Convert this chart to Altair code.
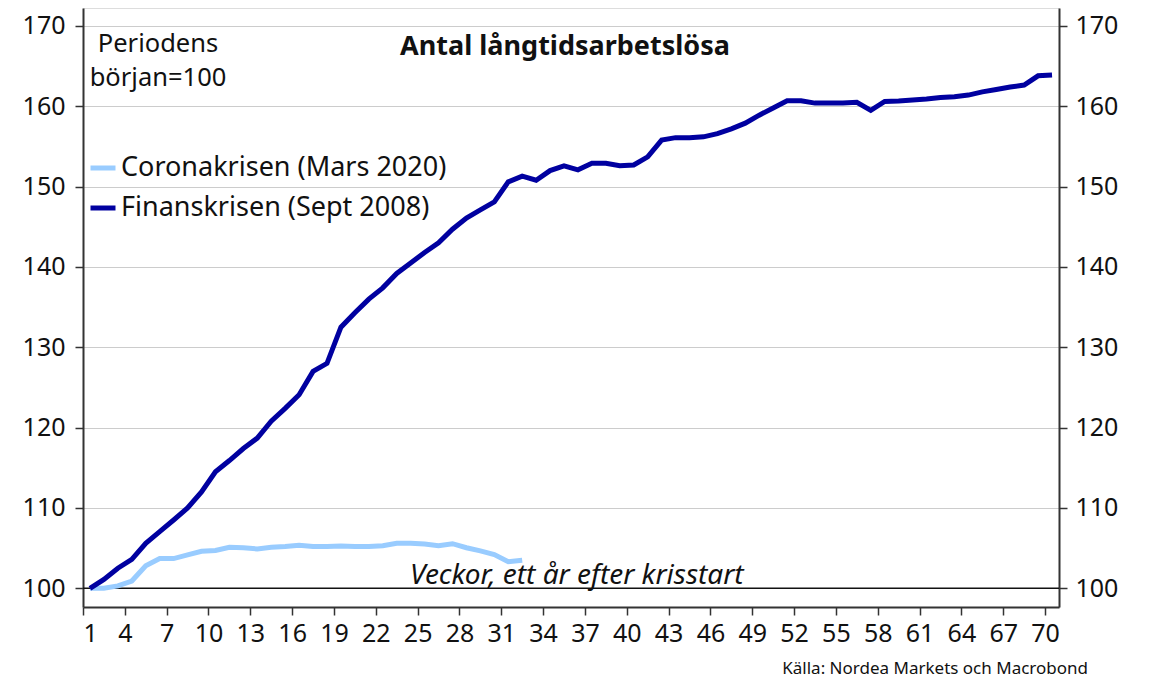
import altair as alt
import pandas as pd

FONT = "Noto Sans"

series_names = ["Coronakrisen (Mars 2020)", "Finanskrisen (Sept 2008)"]
series_colors = ["#99ccff", "#0000a0"]

weeks_corona = list(range(1, 33))
corona = [100.0, 100.0, 100.3, 100.9, 102.8, 103.7, 103.7, 104.15, 104.6, 104.7,
          105.1, 105.05, 104.9, 105.1, 105.2, 105.35, 105.2, 105.2, 105.25, 105.2,
          105.2, 105.3, 105.6, 105.6, 105.5, 105.3, 105.55, 105.05, 104.65, 104.2,
          103.3, 103.5]

weeks_finans = list(range(1, 71))
finans = [100.0, 101.1, 102.5, 103.6, 105.6, 107.05, 108.5, 110.0, 112.0, 114.5,
          115.9, 117.4, 118.7, 120.8, 122.4, 124.1, 127.0, 128.0, 132.5, 134.3,
          136.0, 137.4, 139.2, 140.5, 141.8, 143.0, 144.7, 146.1, 147.1, 148.1,
          150.6, 151.3, 150.8, 152.0, 152.6, 152.1, 152.9, 152.9, 152.6, 152.7,
          153.7, 155.8, 156.1, 156.1, 156.2, 156.6, 157.2, 157.9, 158.9, 159.8,
          160.7, 160.7, 160.4, 160.4, 160.4, 160.5, 159.5, 160.6, 160.65, 160.8,
          160.9, 161.1, 161.2, 161.4, 161.8, 162.1, 162.4, 162.65, 163.8, 163.9]

x_ticks = list(range(1, 71, 3))
y_ticks = [100, 110, 120, 130, 140, 150, 160, 170]

df = pd.concat([
    pd.DataFrame({"vecka": weeks_corona, "index": corona, "serie": series_names[0]}),
    pd.DataFrame({"vecka": weeks_finans, "index": finans, "serie": series_names[1]}),
])

W, H = 976, 599
y_dom = [97.67, 172.24]
x_dom = [1, 71]

x_scale = alt.Scale(domain=x_dom, nice=False, zero=False)
y_scale = alt.Scale(domain=y_dom, nice=False, zero=False)

axis_common = dict(
    labelFont=FONT, labelFontSize=25, labelColor="#111111",
    domainColor="#333333", domainWidth=2, tickColor="#333333", tickWidth=1.5,
    tickSize=8, title=None,
)

lines = alt.Chart(df).transform_calculate(
    xpos="datum.vecka + 0.5"
).mark_line(strokeWidth=5).encode(
    x=alt.X("xpos:Q", scale=x_scale,
            axis=alt.Axis(values=x_ticks, labelPadding=6, grid=False, **axis_common)),
    y=alt.Y("index:Q", scale=y_scale,
            axis=alt.Axis(values=y_ticks, labelPadding=10, grid=True,
                          gridColor="#cccccc", gridWidth=1, **axis_common)),
    color=alt.Color("serie:N",
                    scale=alt.Scale(domain=series_names, range=series_colors),
                    legend=alt.Legend(
                        title=None, orient="none", legendX=5, legendY=145,
                        direction="vertical", symbolType="stroke",
                        symbolSize=625, symbolStrokeWidth=5,
                        labelFont=FONT, labelFontSize=27, labelColor="#111111",
                        labelOffset=3, rowPadding=12, padding=0, labelLimit=0,
                    )),
)

base_rule = alt.Chart(pd.DataFrame({"v": [100]})).mark_rule(
    color="#111111", strokeWidth=1.5
).encode(
    y=alt.Y("v:Q", scale=y_scale, axis=None),
)

right_axis = alt.Chart(pd.DataFrame({"v": y_ticks})).mark_tick(opacity=0).encode(
    y=alt.Y("v:Q", scale=y_scale,
            axis=alt.Axis(values=y_ticks, orient="right", labelPadding=8,
                          grid=False, **axis_common)),
)

def label(text, x, y, size=25, weight="normal", style="normal", align="left",
          baseline="middle", color="#111111"):
    return alt.Chart(pd.DataFrame({"t": [text]})).mark_text(
        font=FONT, fontSize=size, fontWeight=weight, fontStyle=style,
        align=align, baseline=baseline, color=color,
    ).encode(x=alt.value(x), y=alt.value(y), text="t:N")

title = label("Antal långtidsarbetslösa", 482, 39, size=27, weight="bold", align="center")
unit1 = label("Periodens", 75, 36, size=25.5, align="center")
unit2 = label("början=100", 75, 70, size=25.5, align="center")
note = label("Veckor, ett år efter krisstart", 327, 576, size=28, style="italic",
             baseline="alphabetic")
source = label("Källa: Nordea Markets och Macrobond", 1005, 666, size=17,
               align="right", baseline="alphabetic")

chart = alt.layer(
    base_rule, lines, right_axis, title, unit1, unit2, note, source
).resolve_scale(y="independent").properties(
    width=W, height=H,
    autosize=alt.AutoSizeParams(type="none"),
    padding={"left": 75, "top": 0, "right": 70, "bottom": 73},
).configure_view(stroke=None).configure(background="white")

chart.save("out.html", embed_options={"renderer": "svg", "actions": False})
